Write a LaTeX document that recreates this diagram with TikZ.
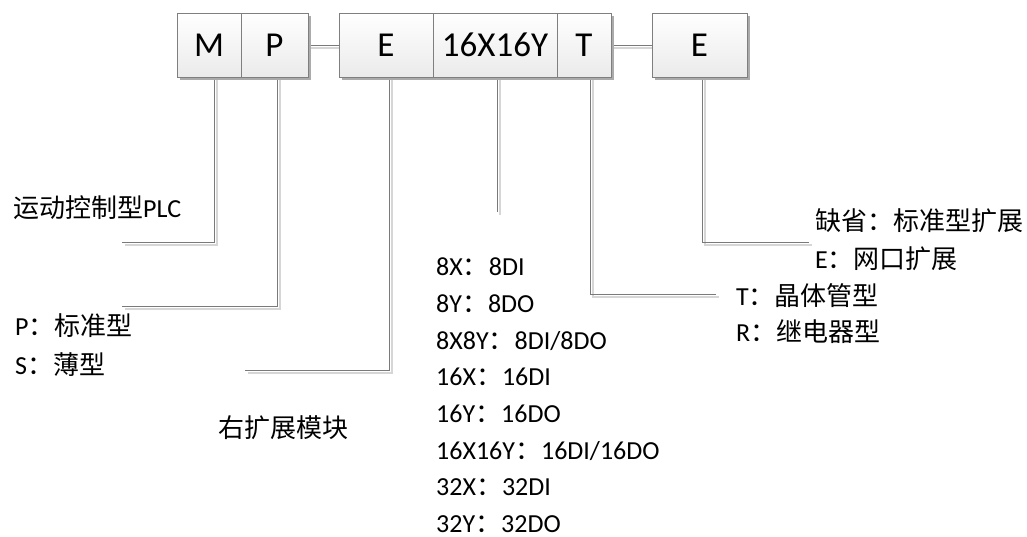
\documentclass[tikz,border=0pt]{standalone}
\usepackage{fontspec}
\setmainfont{Carlito}
\newfontfamily\cjk{Noto Sans CJK SC}
\usetikzlibrary{shadows,calc}
\newcommand\zc{{\cjk ：}}
\definecolor{boxgray}{HTML}{7F7F7F}
\definecolor{linegray}{HTML}{7A7A7A}
\definecolor{shadowline}{HTML}{D6D6D6}
\definecolor{boxshadow}{HTML}{ABABAB}
\pgfdeclarelayer{bg}
\pgfsetlayers{bg,main}
\begin{document}
\begin{tikzpicture}[x=1pt,y=-1pt,
  cell/.style={draw=boxgray, line width=0.8pt, top color=white, bottom color=black!8,
    minimum height=64pt, inner sep=0pt, font=\fontsize{35}{42}\selectfont,
    drop shadow={shadow xshift=3pt, shadow yshift=-3pt, fill=boxshadow, opacity=1}},
  lnk/.style={draw=linegray, line width=0.9pt,
    preaction={draw=shadowline, line width=2pt, transform canvas={shift={(3pt,-3pt)}}}},
  lab/.style={anchor=west, inner sep=0pt, text height=23pt, text depth=3pt,
    font=\fontsize{26}{30}\selectfont}]
\useasboundingbox (0,0) rectangle (1027,537);
% boxes
\node[cell, minimum width=64pt] (M) at (209,45) {M};
\node[cell, minimum width=67pt] (P) at (274.5,45) {P};
\node[cell, minimum width=94pt] (E1) at (386,45) {E};
\node[cell, minimum width=124pt] (X) at (495,45) {16X16Y};
\node[cell, minimum width=54pt] (T) at (584,45) {T};
\node[cell, minimum width=95pt] (E2) at (699.5,45) {E};
% labels
\node[lab] (lm) at (13,208) {{\cjk 运动控制型}PLC};
\node[lab] (lp1) at (15,325) {P\zc{\cjk 标准型}};
\node[lab] (lp2) at (15,364) {S\zc{\cjk 薄型}};
\node[lab] (le) at (218,427) {\cjk 右扩展模块};
\foreach \t [count=\i from 0] in {8X\zc 8DI, 8Y\zc 8DO, 8X8Y\zc 8DI/8DO, 16X\zc 16DI,
  16Y\zc 16DO, 16X16Y\zc 16DI/16DO, 32X\zc 32DI, 32Y\zc 32DO}
  \node[lab] (l\i) at (436,{266+36.6*\i}) {\t};
\node[lab] (lt1) at (736,295) {T\zc{\cjk 晶体管型}};
\node[lab] (lt2) at (736,331) {R\zc{\cjk 继电器型}};
\node[lab] (le1) at (815,221) {\cjk 缺省：标准型扩展};
\node[lab] (le2) at (815,258) {E\zc{\cjk 网口扩展}};
% free ends
\coordinate (mEnd) at (122,242);
\coordinate (pEnd) at (122,306);
\coordinate (eEnd) at (245,370);
\coordinate (xEnd) at (497,212);
\coordinate (tEnd) at (716,294);
\coordinate (e2End) at (809,242);
% connectors
\begin{pgfonlayer}{bg}
\draw[lnk] (P.east) -- (E1.west);
\draw[lnk] (T.east) -- (E2.west);
\draw[lnk] ([xshift=5pt]M.south) |- (mEnd);
\draw[lnk] ([xshift=2.5pt]P.south) |- (pEnd);
\draw[lnk] ([xshift=3pt]E1.south) |- (eEnd);
\draw[lnk] ([xshift=2pt]X.south) -- (xEnd);
\draw[lnk] ([xshift=6pt]T.south) |- (tEnd);
\draw[lnk] ([xshift=2.5pt]E2.south) |- (e2End);
\end{pgfonlayer}
\end{tikzpicture}
\end{document}
